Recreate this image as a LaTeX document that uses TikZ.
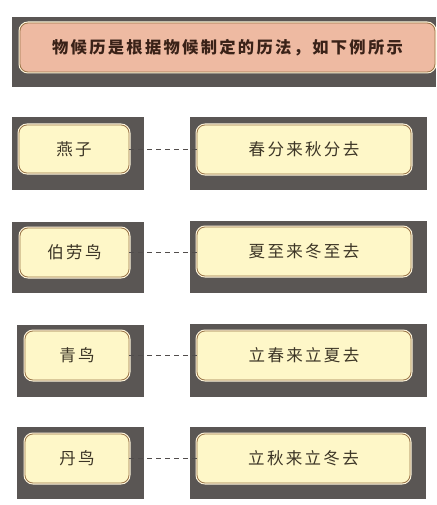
\documentclass[tikz,border=0pt]{standalone}
\usepackage{fontspec}
\newfontfamily\cjk{Noto Sans CJK SC}[LetterSpace=14]
\newfontfamily\cjkt{Noto Sans CJK SC}[LetterSpace=14]
\definecolor{darkbg}{HTML}{5A5654}
\definecolor{pinkfill}{HTML}{EEBAA2}
\definecolor{yellowfill}{HTML}{FEF7C8}
\definecolor{boxborder}{HTML}{9A7548}
\definecolor{creamline}{HTML}{FFF6DC}
\definecolor{itemtext}{HTML}{3C3526}
\definecolor{titletext}{HTML}{3A2218}
\tikzset{
  ibox/.style={rounded corners=8pt, fill=yellowfill, draw=boxborder, line width=0.8pt,
    preaction={draw=creamline, line width=3pt},
    inner sep=0pt, text=itemtext, font=\cjk\fontsize{16.5}{19}\selectfont},
  tbox/.style={ibox, fill=pinkfill, text=titletext, font=\cjkt\bfseries\fontsize{16.3}{19}\selectfont},
  link/.style={draw=darkbg!90!black, line width=0.7pt, dash pattern=on 5pt off 4pt}
}
\begin{document}
\begin{tikzpicture}[x=1pt, y=-1pt]
\useasboundingbox (0,0) rectangle (436,505);
% dark backgrounds
\fill[darkbg] (12,17) rectangle (436,87);
\fill[darkbg] (12,117) rectangle (144,190);
\fill[darkbg] (190,117) rectangle (427,190);
\fill[darkbg] (12,222) rectangle (144,293);
\fill[darkbg] (190,221) rectangle (427,293);
\fill[darkbg] (17,325) rectangle (144,397);
\fill[darkbg] (190,324) rectangle (427,397);
\fill[darkbg] (17,427) rectangle (144,499);
\fill[darkbg] (190,427) rectangle (426,499);
% title
\node[tbox, minimum width=415pt, minimum height=49pt] (t) at (227.5,47.5) {物候历是根据物候制定的历法，如下例所示};
% rows
\node[ibox, minimum width=110pt, minimum height=48pt] (a1) at (74,149) {燕子};
\node[ibox, minimum width=214pt, minimum height=49pt] (b1) at (304,149.5) {春分来秋分去};
\node[ibox, minimum width=109pt, minimum height=49pt] (a2) at (74.5,252.5) {伯劳鸟};
\node[ibox, minimum width=214pt, minimum height=49pt] (b2) at (304,251.5) {夏至来冬至去};
\node[ibox, minimum width=104pt, minimum height=49pt] (a3) at (77,355.5) {青鸟};
\node[ibox, minimum width=214pt, minimum height=49pt] (b3) at (304,355.5) {立春来立夏去};
\node[ibox, minimum width=104pt, minimum height=49pt] (a4) at (77,458.5) {丹鸟};
\node[ibox, minimum width=213pt, minimum height=49pt] (b4) at (303.5,458.5) {立秋来立冬去};
% connectors
\draw[link] (a1.east) -- (a1.east -| b1.west);
\draw[link] (a2.east) -- (a2.east -| b2.west);
\draw[link] (a3.east) -- (a3.east -| b3.west);
\draw[link] (a4.east) -- (a4.east -| b4.west);
\end{tikzpicture}
\end{document}
